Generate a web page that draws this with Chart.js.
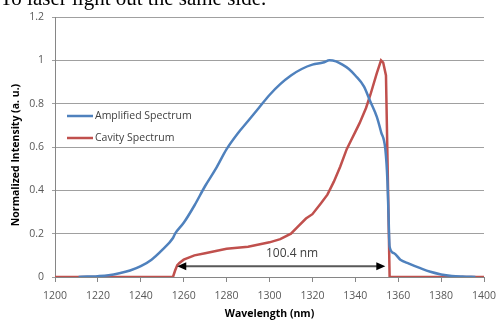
<!DOCTYPE html>
<html>
<head>
<meta charset="utf-8">
<script src="https://cdn.jsdelivr.net/npm/chart.js@4/dist/chart.umd.min.js"></script>
<style>
  html, body { margin: 0; padding: 0; background: #fff; }
  #wrap { width: 497px; height: 320px; position: relative; }
</style>
</head>
<body>
<div id="wrap"><canvas id="spectrum"></canvas></div>
<script>
// wavelength (nm) / normalized intensity
var ampWl = [1211, 1215, 1220, 1225, 1230, 1235, 1240, 1245, 1250, 1255, 1256, 1260, 1265, 1270, 1275, 1280, 1285, 1290, 1295, 1300, 1305, 1310, 1315, 1320, 1325, 1328, 1331, 1334, 1337, 1340, 1344, 1347, 1350, 1352, 1354, 1355, 1355.5, 1356, 1358, 1361, 1365, 1370, 1375, 1380, 1385, 1390, 1396];
var ampVal = [0, 0.002, 0.004, 0.008, 0.017, 0.03, 0.05, 0.08, 0.125, 0.18, 0.2, 0.25, 0.33, 0.42, 0.5, 0.59, 0.66, 0.72, 0.78, 0.84, 0.89, 0.93, 0.96, 0.98, 0.99, 1.0, 0.995, 0.98, 0.96, 0.93, 0.88, 0.81, 0.74, 0.67, 0.59, 0.44, 0.28, 0.14, 0.11, 0.08, 0.062, 0.042, 0.024, 0.012, 0.005, 0.002, 0];

var cavWl = [1200, 1255, 1256, 1257, 1258, 1260, 1265, 1270, 1275, 1280, 1285, 1290, 1295, 1300, 1305, 1310, 1313, 1317, 1320, 1324, 1327, 1330, 1333, 1336, 1338, 1340, 1342, 1345, 1347, 1350, 1352, 1353, 1354.3, 1355, 1356, 1400];
var cavVal = [0, 0, 0.03, 0.055, 0.065, 0.08, 0.1, 0.11, 0.12, 0.13, 0.135, 0.14, 0.15, 0.16, 0.175, 0.2, 0.23, 0.27, 0.29, 0.34, 0.38, 0.44, 0.51, 0.59, 0.63, 0.67, 0.71, 0.78, 0.84, 0.94, 1.0, 0.99, 0.93, 0.55, 0, 0];

var seriesNames = ["Amplified Spectrum", "Cavity Spectrum"];
var seriesColors = ["#4f81bd", "#c0504d"];

// bandwidth arrow
var arrowFrom = 1257, arrowTo = 1354, arrowLevel = 0.05;
var arrowLabel = "100.4 nm";
var arrowLabelAt = [1310.5, 0.107];

var yTitle = "Normalized Intensity (a. u.)";
var pageText = "To laser light out the same side.";

var uiFont = '"Open Sans", "DejaVu Sans", sans-serif';

function toPoints(xs, ys) {
    var pts = [];
    for (var i = 0; i < xs.length; i++) pts.push({ x: xs[i], y: ys[i] });
    return pts;
}

var extras = {
    id: 'extras',
    afterDraw: function (chart) {
        var ctx = chart.ctx;
        var xs = chart.scales.x, ys = chart.scales.y;
        ctx.save();

        // arrow
        var x1 = xs.getPixelForValue(arrowFrom), x2 = xs.getPixelForValue(arrowTo);
        var y = ys.getPixelForValue(arrowLevel);
        ctx.strokeStyle = '#595959';
        ctx.lineWidth = 2;
        ctx.beginPath();
        ctx.moveTo(x1 + 6, y);
        ctx.lineTo(x2 - 6, y);
        ctx.stroke();
        ctx.fillStyle = '#000';
        ctx.beginPath();
        ctx.moveTo(x1, y); ctx.lineTo(x1 + 9, y - 4); ctx.lineTo(x1 + 9, y + 4); ctx.closePath();
        ctx.fill();
        ctx.beginPath();
        ctx.moveTo(x2, y); ctx.lineTo(x2 - 9, y - 4); ctx.lineTo(x2 - 9, y + 4); ctx.closePath();
        ctx.fill();

        ctx.font = '12px ' + uiFont;
        ctx.fillStyle = '#404040';
        ctx.textAlign = 'center';
        ctx.textBaseline = 'middle';
        ctx.fillText(arrowLabel, xs.getPixelForValue(arrowLabelAt[0]), ys.getPixelForValue(arrowLabelAt[1]));

        // legend inside the plot
        ctx.font = '10.5px ' + uiFont;
        ctx.textAlign = 'left';
        for (var i = 0; i < seriesNames.length; i++) {
            var ly = 116 + i * 22;
            ctx.strokeStyle = seriesColors[i];
            ctx.lineWidth = 2.5;
            ctx.beginPath();
            ctx.moveTo(67, ly); ctx.lineTo(93, ly);
            ctx.stroke();
            ctx.fillStyle = '#404040';
            ctx.fillText(seriesNames[i], 95, ly);
        }

        // y axis title (sits a little below the middle of the plot)
        ctx.save();
        ctx.translate(16, 155);
        ctx.rotate(-Math.PI / 2);
        ctx.font = 'bold 10.5px ' + uiFont;
        ctx.fillStyle = '#000';
        ctx.textAlign = 'center';
        ctx.fillText(yTitle, 0, 0);
        ctx.restore();

        // text of the page above the figure
        ctx.font = '21px "Liberation Serif", "Times New Roman", serif';
        ctx.fillStyle = '#000';
        ctx.textAlign = 'left';
        ctx.textBaseline = 'alphabetic';
        ctx.fillText(pageText, 0, 5);
        ctx.restore();
    }
};

new Chart(document.getElementById('spectrum'), {
    type: 'line',
    data: {
        datasets: [
            { label: seriesNames[0], data: toPoints(ampWl, ampVal), borderColor: seriesColors[0], borderWidth: 2.5, pointRadius: 0, cubicInterpolationMode: 'monotone', fill: false },
            { label: seriesNames[1], data: toPoints(cavWl, cavVal), borderColor: seriesColors[1], borderWidth: 2.5, pointRadius: 0, tension: 0, fill: false }
        ]
    },
    options: {
        responsive: true,
        maintainAspectRatio: false,
        animation: false,
        layout: { padding: { top: 17, right: 13, left: 0, bottom: 0 } },
        plugins: { legend: { display: false }, tooltip: { enabled: false } },
        scales: {
            x: {
                type: 'linear', min: 1200, max: 1400,
                afterFit: function (s) { s.height = 43; s.paddingRight = 0; s.paddingLeft = 0; },
                grid: { drawOnChartArea: false, drawTicks: true, tickLength: 5, color: '#868686' },
                border: { color: '#868686' },
                ticks: { stepSize: 20, padding: 8, color: '#595959', font: { size: 10.5, family: uiFont },
                         callback: function (v) { return String(v); } },
                title: { display: true, text: 'Wavelength (nm)', color: '#000', padding: 0, font: { size: 10.5, weight: 'bold', family: uiFont } }
            },
            y: {
                min: 0, max: 1.2,
                afterFit: function (s) { s.width = 55; },
                grid: { color: '#a0a0a0', tickLength: 3 },
                border: { color: '#868686' },
                ticks: { stepSize: 0.2, padding: 8, color: '#595959', font: { size: 10.5, family: uiFont },
                         callback: function (v) { return String(Math.round(v * 10) / 10); } }
            }
        }
    },
    plugins: [extras]
});
</script>
</body>
</html>
